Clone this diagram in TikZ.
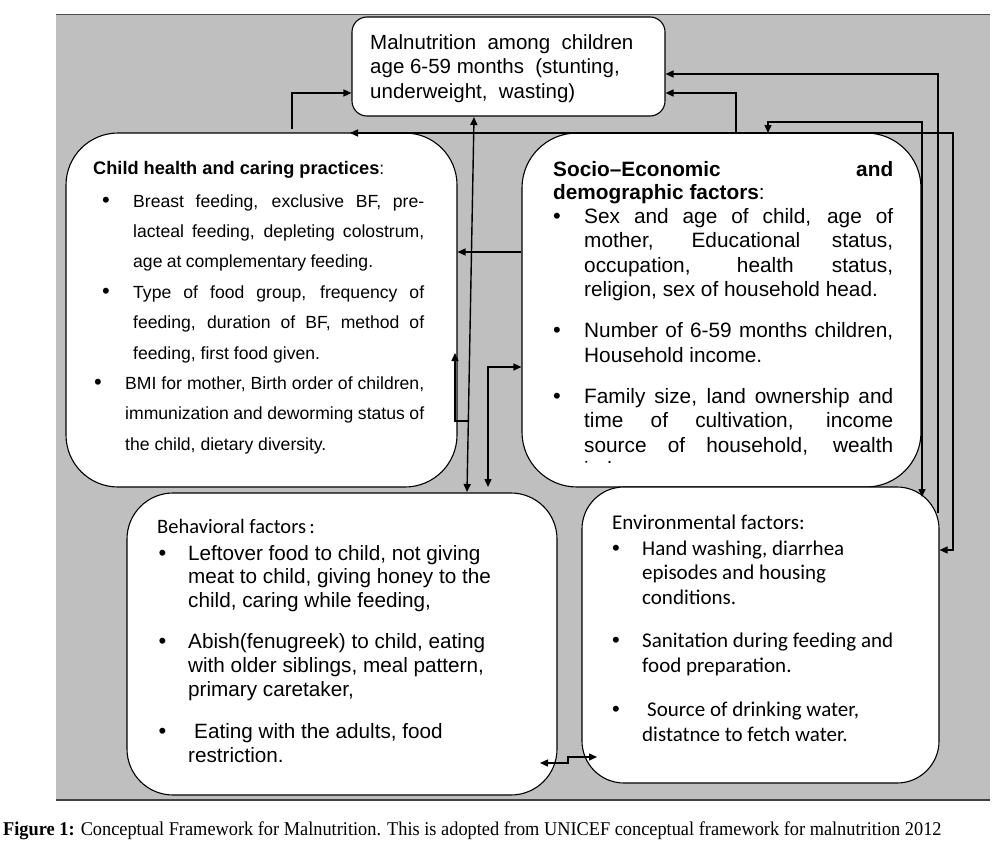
\documentclass[tikz,border=0pt]{standalone}
\usepackage{fontspec}
\setmainfont{Liberation Sans}
\newfontfamily\calfont{Carlito}
\newfontfamily\capfont[FakeStretch=0.94]{Liberation Serif}
\usetikzlibrary{arrows.meta}
\definecolor{bggray}{RGB}{191,191,191}
\newcommand\bulfont{\fontspec{Liberation Sans}\fontsize{22}{22}\selectfont}
\newcommand\bu[1]{\makebox[#1][l]{{\bulfont •}}}
\tikzset{
  box/.style={draw=black, line width=1.1pt, fill=white, rounded corners=#1, inner sep=0pt},
  conn/.style={line width=1.4pt, -{Triangle[length=8pt,width=7pt]}},
  conn2/.style={line width=1.4pt, {Triangle[length=8pt,width=7pt]}-{Triangle[length=8pt,width=7pt]}},
  txt/.style={anchor=base west, inner sep=0pt},
}
\begin{document}
\begin{tikzpicture}[x=1pt,y=-1pt]
\useasboundingbox (0,0) rectangle (1006,859);
% background
\fill[bggray] (56,14) rectangle (990,800);
\draw[line width=0.8pt, black!70] (56,14) -- (990,14);
\draw[line width=1.8pt, black!75] (56,800) -- (990,800);

% boxes
\node[box=15pt, minimum width=313pt, minimum height=99pt] (top) at (508.5,66.5) {};
\node[box=52pt, minimum width=391pt, minimum height=354pt] (child) at (261.5,310) {};
\node[box=55pt, minimum width=399pt, minimum height=354pt] (socio) at (721.5,310) {};
\node[box=46pt, minimum width=430pt, minimum height=302pt] (behav) at (342,644) {};
\node[box=42pt, minimum width=357pt, minimum height=296pt] (env) at (760.5,635) {};

% texts
\node[txt] (topT) at (370,49) {\parbox[t]{300pt}{\fontsize{20.5}{24.5}\selectfont
Malnutrition\ \ among\ \ children\\
age 6-59 months\ \ (stunting,\\
underweight,\ \ wasting)}};

\node[txt] (childT) at (93,174) {\parbox[t]{340pt}{\fontsize{17.6}{30.4}\selectfont
{\fontsize{18.2}{30.4}\selectfont\bfseries Child health and caring practices}:\\[2.6pt]
\hspace*{9pt}\bu{31pt}\makebox[291pt][s]{Breast feeding, exclusive BF, pre-}\\
\hspace*{40pt}\makebox[291pt][s]{lacteal feeding, depleting colostrum,}\\
\hspace*{40pt}\makebox[240pt][s]{age at complementary feeding.}\\
\hspace*{9pt}\bu{31pt}\makebox[291pt][s]{Type of food group, frequency of}\\
\hspace*{40pt}\makebox[291pt][s]{feeding, duration of BF, method of}\\
\hspace*{40pt}feeding, first food given.\\
\hspace*{1pt}\bu{31pt}\makebox[299pt][s]{BMI for mother, Birth order of children,}\\
\hspace*{32pt}\makebox[299pt][s]{immunization and deworming status of}\\
\hspace*{32pt}the child, dietary diversity.}};

\begin{scope}
\clip (520,140) rectangle (925,462);
\node[txt] (socioT) at (553,176) {\parbox[t]{345pt}{\fontsize{20.8}{24.5}\selectfont
\makebox[340pt][s]{\bfseries Socio–Economic and}\\[-1.5pt]
{\bfseries demographic factors}:\\[-0.5pt]
\bu{31pt}\makebox[309pt][s]{Sex and age of child, age of}\\
\hspace*{31pt}\makebox[309pt][s]{mother, Educational status,}\\
\hspace*{31pt}\makebox[309pt][s]{occupation, health status,}\\
\hspace*{31pt}religion, sex of household head.\\[16.5pt]
\bu{31pt}\makebox[309pt][s]{Number of 6-59 months children,}\\
\hspace*{31pt}Household income.\\[16.5pt]
\bu{31pt}\makebox[309pt][s]{Family size, land ownership and}\\
\hspace*{31pt}\makebox[309pt][s]{time of cultivation, income}\\
\hspace*{31pt}\makebox[309pt][s]{source of household, wealth}\\
\hspace*{31pt}index}};
\end{scope}

\node[txt] (behavT) at (157,533) {\parbox[t]{400pt}{\fontsize{20.7}{23.8}\selectfont
{\calfont\fontsize{20.5}{23.8}\selectfont Behavioral factors\,:}\\[3.2pt]
\hspace*{1.5pt}\bu{29.5pt}Leftover food to child, not giving\\
\hspace*{31pt}meat to child, giving honey to the\\
\hspace*{31pt}child, caring while feeding,\\[17.2pt]
\hspace*{1.5pt}\bu{29.5pt}Abish(fenugreek) to child, eating\\
\hspace*{31pt}with older siblings, meal pattern,\\
\hspace*{31pt}primary caretaker,\\[18.2pt]
\hspace*{1.5pt}\bu{29.5pt}\hspace*{6pt}Eating with the adults, food\\
\hspace*{31pt}restriction.}};

\node[txt] (envT) at (612,529) {\parbox[t]{320pt}{\calfont\fontsize{21}{24.5}\selectfont
Environmental factors:\\[1.5pt]
\bu{30pt}Hand washing, diarrhea\\
\hspace*{30pt}episodes and housing\\
\hspace*{30pt}conditions.\\[19pt]
\bu{30pt}Sanitation during feeding and\\
\hspace*{30pt}food preparation.\\[20pt]
\bu{30pt}\hspace*{5pt}Source of drinking water,\\
\hspace*{30pt}distatnce to fetch water.}};

% connectors
\draw[conn] (292,129) |- (top.west |- 0,93);
\draw[conn2] (350,133) -- (736,133) |- (top.east |- 0,93);
\draw[conn] (736,133) -- (953,133) |- (env.east |- 0,550);
\draw[conn2] (768,133) |- (922,122) -- (922,497);
\draw[conn] (938,513) |- (top.east |- 0,74);
\draw[conn] (socio.west |- 0,252) -- (child.east |- 0,252);
\draw[conn2] (474,117) -- (467,492);
\draw[conn] (468.3,421) -- (455,421) -- (455,353);
\draw[conn2] (488,487) |- (socio.west |- 0,367);
\draw[conn2] (540,763) -- (568,763) -- (568,757) -- (597,757);

% caption
\node[txt] (cap) at (3,835) {\capfont\fontsize{19.5}{22}\selectfont\textbf{Figure 1:} Conceptual Framework for Malnutrition. This is adopted from UNICEF conceptual framework for malnutrition 2012};
\end{tikzpicture}
\end{document}
